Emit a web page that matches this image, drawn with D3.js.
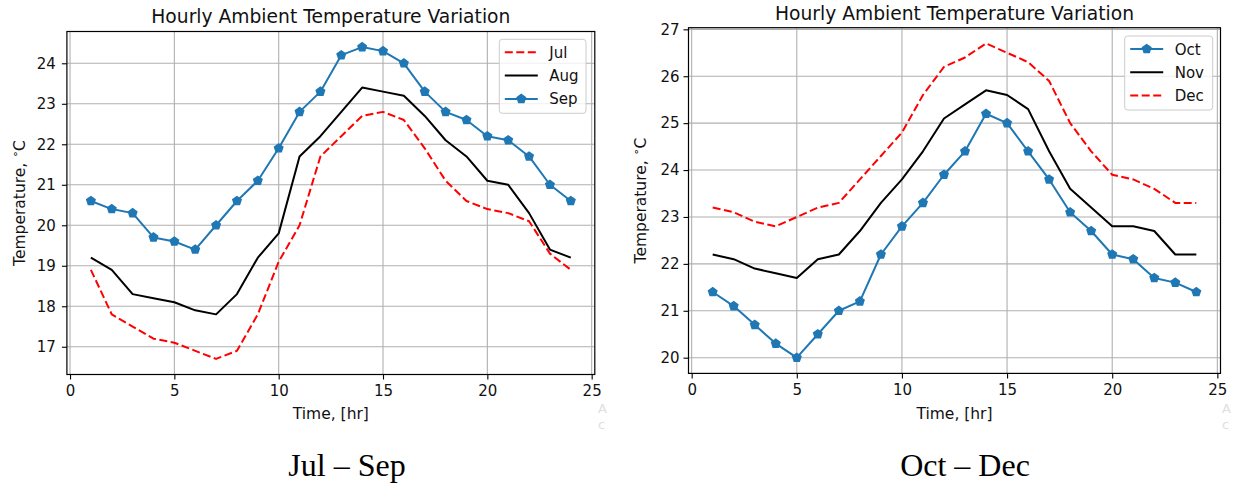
<!DOCTYPE html>
<html><head><meta charset="utf-8">
<script src="https://cdn.jsdelivr.net/npm/d3@7"></script>
<style>
html,body{margin:0;padding:0;background:#fff;}
svg{display:block;font-family:"DejaVu Sans",sans-serif;}
</style></head>
<body>
<svg id="c" width="1233" height="484"></svg>
<script>
const hours = d3.range(1, 25);
const jul = [18.9,17.8,17.5,17.2,17.1,16.9,16.7,16.9,17.8,19.1,20.0,21.7,22.2,22.7,22.8,22.6,21.9,21.1,20.6,20.4,20.3,20.1,19.3,18.9];
const aug = [19.2,18.9,18.3,18.2,18.1,17.9,17.8,18.3,19.2,19.8,21.7,22.2,22.8,23.4,23.3,23.2,22.7,22.1,21.7,21.1,21.0,20.3,19.4,19.2];
const sep = [20.6,20.4,20.3,19.7,19.6,19.4,20.0,20.6,21.1,21.9,22.8,23.3,24.2,24.4,24.3,24.0,23.3,22.8,22.6,22.2,22.1,21.7,21.0,20.6];
const oct = [21.4,21.1,20.7,20.3,20.0,20.5,21.0,21.2,22.2,22.8,23.3,23.9,24.4,25.2,25.0,24.4,23.8,23.1,22.7,22.2,22.1,21.7,21.6,21.4];
const nov = [22.2,22.1,21.9,21.8,21.7,22.1,22.2,22.7,23.3,23.8,24.4,25.1,25.4,25.7,25.6,25.3,24.4,23.6,23.2,22.8,22.8,22.7,22.2,22.2];
const dec = [23.2,23.1,22.9,22.8,23.0,23.2,23.3,23.8,24.3,24.8,25.6,26.2,26.4,26.7,26.5,26.3,25.9,25.0,24.4,23.9,23.8,23.6,23.3,23.3];
const xTicks = [0,5,10,15,20,25];
const yTicksLeft = [17,18,19,20,21,22,23,24];
const yTicksRight = [20,21,22,23,24,25,26,27];
const titleText = "Hourly Ambient Temperature Variation";
const xLabelText = "Time, [hr]";
const captions = ["Jul \u2013 Sep", "Oct \u2013 Dec"];

const BLUE = "#1f77b4", RED = "#ff0000", BLACK = "#000000";
const styleOf = {
  Jul:{color:RED,dash:"8,3.5",marker:false},
  Aug:{color:BLACK,dash:null,marker:false},
  Sep:{color:BLUE,dash:null,marker:true},
  Oct:{color:BLUE,dash:null,marker:true},
  Nov:{color:BLACK,dash:null,marker:false},
  Dec:{color:RED,dash:"8,3.5",marker:false}
};

const pentagon = {
  draw(ctx, size){
    const r = Math.sqrt(size);
    for(let i=0;i<5;i++){
      const a = -Math.PI/2 + i*2*Math.PI/5;
      const x = r*Math.cos(a), y = r*Math.sin(a);
      if(i===0) ctx.moveTo(x,y); else ctx.lineTo(x,y);
    }
    ctx.closePath();
  }
};

const svg = d3.select("#c");

function panel(cfg){
  const g = svg.append("g");
  const allVals = cfg.series.flatMap(s=>s.values);
  const [mn,mx] = d3.extent(allVals);
  const m = (mx-mn)*0.05;
  const x = d3.scaleLinear().domain([1-23*0.05, 24+23*0.05]).range([cfg.x0,cfg.x1]);
  const y = d3.scaleLinear().domain([mn-m, mx+m]).range([cfg.y1,cfg.y0]);

  // grid
  g.append("g").selectAll("line").data(xTicks).join("line")
    .attr("x1",d=>x(d)).attr("x2",d=>x(d)).attr("y1",cfg.y0).attr("y2",cfg.y1)
    .attr("stroke","#b0b0b0").attr("stroke-width",1.1);
  g.append("g").selectAll("line").data(cfg.yTicks).join("line")
    .attr("y1",d=>y(d)).attr("y2",d=>y(d)).attr("x1",cfg.x0).attr("x2",cfg.x1)
    .attr("stroke","#b0b0b0").attr("stroke-width",1.1);

  // series
  const line = d3.line().x((d,i)=>x(hours[i])).y(d=>y(d));
  cfg.series.forEach(s=>{
    const st = styleOf[s.name];
    g.append("path").attr("d",line(s.values)).attr("fill","none")
      .attr("stroke",st.color).attr("stroke-width",2)
      .attr("stroke-dasharray",st.dash).attr("stroke-linejoin","round");
    if(st.marker){
      g.append("g").selectAll("path").data(s.values).join("path")
        .attr("transform",(d,i)=>`translate(${x(hours[i])},${y(d)})`)
        .attr("d",d3.symbol().type(pentagon).size(5.3*5.3))
        .attr("fill",st.color);
    }
  });

  // axes
  const xa = g.append("g").attr("transform",`translate(0,${cfg.y1})`)
    .call(d3.axisBottom(x).tickValues(xTicks).tickSize(5).tickPadding(6).tickSizeOuter(0));
  const ya = g.append("g").attr("transform",`translate(${cfg.x0},0)`)
    .call(d3.axisLeft(y).tickValues(cfg.yTicks).tickSize(5).tickPadding(cfg.ypad).tickSizeOuter(0));
  [xa,ya].forEach(a=>{
    a.select(".domain").remove();
    a.selectAll("line").attr("stroke","#000").attr("stroke-width",1.1);
    a.selectAll("text").attr("font-size",15).attr("fill","#111").attr("font-family","DejaVu Sans");
  });
  // spines
  g.append("rect").attr("x",cfg.x0).attr("y",cfg.y0).attr("width",cfg.x1-cfg.x0).attr("height",cfg.y1-cfg.y0)
    .attr("fill","none").attr("stroke","#000").attr("stroke-width",1.2);

  // title
  g.append("text").attr("x",(cfg.x0+cfg.x1)/2).attr("y",cfg.titleY).attr("text-anchor","middle")
    .attr("font-size",18.7).attr("fill","#111").text(titleText);
  // x label
  g.append("text").attr("x",(cfg.x0+cfg.x1)/2).attr("y",418.5).attr("text-anchor","middle")
    .attr("font-size",15.5).attr("fill","#111").text(xLabelText);
  // y label
  const yl = g.append("text").attr("transform",`translate(${cfg.ylabX},${(cfg.y0+cfg.y1)/2}) rotate(-90)`)
    .attr("text-anchor","middle").attr("font-size",15.5).attr("fill","#111");
  yl.append("tspan").text("Temperature, ");
  yl.append("tspan").attr("font-size",11).attr("dy",-6).text("\u2218");
  yl.append("tspan").attr("dy",6).text("C");

  // legend
  const lg = g.append("g");
  lg.append("rect").attr("x",cfg.leg.x).attr("y",cfg.leg.y).attr("width",cfg.leg.w).attr("height",cfg.leg.h)
    .attr("rx",3).attr("fill","#fff").attr("fill-opacity",0.8).attr("stroke","#cccccc").attr("stroke-width",1);
  cfg.series.forEach((s,i)=>{
    const st = styleOf[s.name];
    const cy = cfg.leg.y + 13 + i*23.3;
    const lx0 = cfg.leg.x+5.5, lx1 = cfg.leg.x+38.5;
    lg.append("line").attr("x1",lx0).attr("x2",lx1).attr("y1",cy).attr("y2",cy)
      .attr("stroke",st.color).attr("stroke-width",2).attr("stroke-dasharray",st.dash);
    if(st.marker){
      lg.append("path").attr("transform",`translate(${(lx0+lx1)/2},${cy})`)
        .attr("d",d3.symbol().type(pentagon).size(5.3*5.3)).attr("fill",st.color);
    }
    lg.append("text").attr("x",cfg.leg.x+50).attr("y",cy+5.5).attr("font-size",15).attr("fill","#111").text(s.name);
  });
}

panel({
  x0:66.9,x1:594.8,y0:31.5,y1:374.5,yTicks:yTicksLeft,ypad:6,titleY:23,ylabX:25,
  series:[{name:"Jul",values:jul},{name:"Aug",values:aug},{name:"Sep",values:sep}],
  leg:{x:499.3,y:39.3,w:86.7,h:74}
});
panel({
  x0:688.5,x1:1220.5,y0:27.7,y1:373.4,yTicks:yTicksRight,ypad:4,titleY:19.5,ylabX:646,
  series:[{name:"Oct",values:oct},{name:"Nov",values:nov},{name:"Dec",values:dec}],
  leg:{x:1124.7,y:36,w:88,h:74}
});

// captions
svg.append("text").attr("x",347).attr("y",476).attr("text-anchor","middle")
  .attr("font-family","Liberation Serif, Times New Roman, serif").attr("font-size",32).attr("fill","#000").text(captions[0]);
svg.append("text").attr("x",965).attr("y",476).attr("text-anchor","middle")
  .attr("font-family","Liberation Serif, Times New Roman, serif").attr("font-size",32).attr("fill","#000").text(captions[1]);

// faint watermark letters
[[598,"A","c"],[1222,"A","c"]].forEach(([xx,a,b])=>{
  svg.append("text").attr("x",xx).attr("y",413).attr("font-size",13).attr("fill","#e0e0e0").text(a);
  svg.append("text").attr("x",xx).attr("y",429).attr("font-size",13).attr("fill","#e0e0e0").text(b);
});
</script>
</body></html>
